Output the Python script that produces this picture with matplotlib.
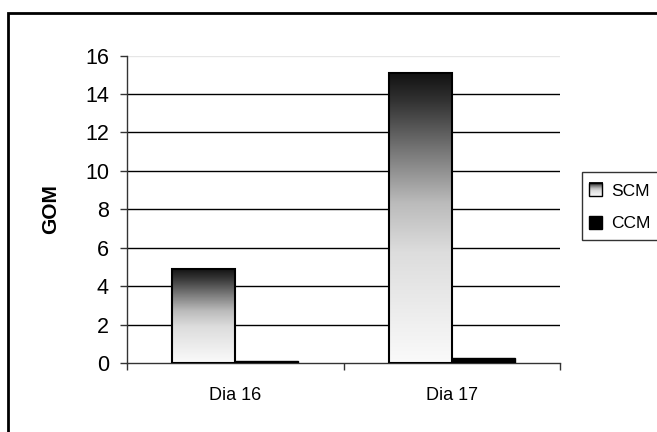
import numpy as np
import matplotlib
matplotlib.use("Agg")
import matplotlib.pyplot as plt
from matplotlib.patches import Rectangle, Patch
from matplotlib.legend_handler import HandlerBase
from matplotlib.image import BboxImage
from matplotlib.transforms import Bbox, TransformedBbox
from matplotlib.colors import LinearSegmentedColormap

plt.rcParams['font.family'] = ['Liberation Sans', 'DejaVu Sans']

categories = ["Dia 16", "Dia 17"]
series_names = ["SCM", "CCM"]
scm_values = [4.9, 15.1]
ccm_values = [0.1, 0.3]
y_ticks = [0, 2, 4, 6, 8, 10, 12, 14, 16]

# dark-to-white vertical fill for the SCM bars (bottom -> top)
grad_cmap = LinearSegmentedColormap.from_list(
    "fade", [(0.0, "#fafafa"), (0.38, "#dddddd"), (0.55, "#bbbbbb"),
             (0.73, "#777777"), (0.9, "#333333"), (1.0, "#111111")])
grad = np.linspace(0, 1, 256).reshape(-1, 1)

W, H = 657, 432
fig = plt.figure(figsize=(W / 100, H / 100), dpi=100)
ax = fig.add_axes([127 / W, 1 - 363.3 / H, (560 - 127) / W, (363.3 - 55.5) / H])

x = np.arange(len(categories))
bw = 0.29
scm_bars = ax.bar(x - bw / 2, scm_values, bw, facecolor="none", edgecolor="black",
                  linewidth=1.5, zorder=3)
ccm_bars = ax.bar(x + bw / 2, ccm_values, bw, facecolor="black", edgecolor="black",
                  linewidth=1.0, zorder=3)

for bar in scm_bars:
    bx, by = bar.get_x(), bar.get_y()
    bwid, bh = bar.get_width(), bar.get_height()
    im = ax.imshow(grad, cmap=grad_cmap, aspect="auto", origin="lower",
                   extent=[bx, bx + bwid, by, by + bh], zorder=2.5,
                   interpolation="bilinear")
    im.set_clip_path(bar)

ax.set_xlim(-0.5, len(categories) - 0.5)
ax.set_ylim(0, 16)

# horizontal gridlines; the topmost one is faint
for t in y_ticks[1:]:
    col = "#e6e6e6" if t == y_ticks[-1] else "black"
    ax.axhline(t, color=col, linewidth=1.0, zorder=1)

ax.set_yticks(y_ticks)
ax.set_yticklabels([str(t) for t in y_ticks], fontsize=15.5)
ax.tick_params(axis="y", direction="out", length=5, width=1, pad=8, color="#333333")

# category ticks between groups, labels centred under groups
ax.set_xticks(np.arange(len(categories) + 1) - 0.5)
ax.set_xticklabels([])
ax.set_xticks(x, minor=True)
ax.set_xticklabels(categories, minor=True, fontsize=13)
ax.tick_params(axis="x", which="major", direction="out", length=5, width=1, color="#333333")
ax.tick_params(axis="x", which="minor", length=0, pad=17)

for s in ["top", "right"]:
    ax.spines[s].set_visible(False)
for s in ["left", "bottom"]:
    ax.spines[s].set_color("#333333")
    ax.spines[s].set_linewidth(1.0)

ax.set_ylabel("GOM", fontsize=15, fontweight="bold", labelpad=18)


class GradientHandler(HandlerBase):
    def create_artists(self, legend, orig_handle, xdescent, ydescent,
                       width, height, fontsize, trans):
        s = min(width, height)
        x0 = -xdescent + (width - s) / 2
        y0 = -ydescent + (height - s) / 2
        bb = TransformedBbox(Bbox.from_bounds(x0, y0, s, s), trans)
        img = BboxImage(bb, cmap=grad_cmap, interpolation="bilinear", origin="lower")
        img.set_data(grad)
        rect = Rectangle((x0, y0), s, s, fill=False, edgecolor="black",
                         linewidth=1.0, transform=trans)
        return [img, rect]


class SquareHandler(HandlerBase):
    def create_artists(self, legend, orig_handle, xdescent, ydescent,
                       width, height, fontsize, trans):
        s = min(width, height)
        x0 = -xdescent + (width - s) / 2
        y0 = -ydescent + (height - s) / 2
        rect = Rectangle((x0, y0), s, s, facecolor=orig_handle.get_facecolor(),
                         edgecolor="black", linewidth=1.0, transform=trans)
        return [rect]


scm_handle = Patch(facecolor="#999999", edgecolor="black", label=series_names[0])
ccm_handle = Patch(facecolor="black", edgecolor="black", label=series_names[1])
leg = fig.legend(handles=[scm_handle, ccm_handle], labels=series_names,
                 loc="upper left", bbox_to_anchor=(582 / W, 1 - 172 / H),
                 fontsize=12.5, frameon=True, fancybox=False, shadow=False,
                 handlelength=0.75, handleheight=1.5, handletextpad=0.5,
                 labelspacing=0.65, borderpad=0.42, borderaxespad=0,
                 handler_map={scm_handle: GradientHandler(),
                              ccm_handle: SquareHandler()})
leg.get_frame().set_edgecolor("black")
leg.get_frame().set_linewidth(1.0)

# chart-area border, running off the right and bottom edges
fig.patches.append(Rectangle((8 / W, -0.1), 1.2, 1 - 13 / H + 0.1,
                             transform=fig.transFigure, fill=False,
                             edgecolor="black", linewidth=2.0, zorder=10))

fig.savefig("out.png", dpi=100)
